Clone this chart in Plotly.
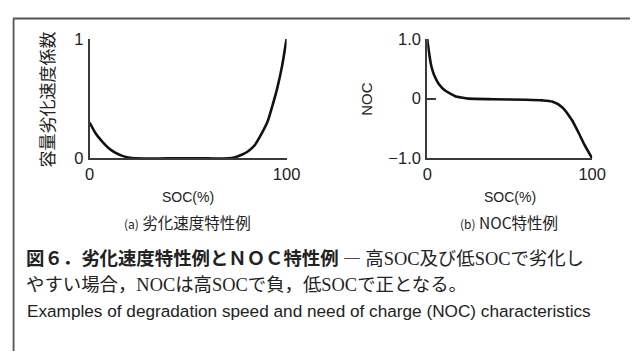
import plotly.graph_objects as go

# ---- data ----
soc_a = [0, 3, 6.4, 9.7, 13, 16.3, 19.6, 23, 40, 60, 70.6, 73.5, 77.2, 80.5, 83.8, 87.1, 90.4, 92.8, 95.3, 97.8, 100]
rate_a = [0.30, 0.21, 0.14, 0.085, 0.048, 0.023, 0.008, 0.0, 0.0, 0.0, 0.0, 0.008, 0.03, 0.06, 0.11, 0.20, 0.31, 0.44, 0.59, 0.78, 1.0]

soc_b = [0, 1.2, 2.2, 3.1, 4.1, 7, 11, 12.9, 16.9, 20.8, 25, 40, 60, 70, 75.7, 81.6, 87.5, 91.4, 95.3, 100]
noc_b = [1.0, 0.75, 0.58, 0.48, 0.40, 0.245, 0.13, 0.10, 0.04, 0.017, 0.0, -0.01, -0.02, -0.03, -0.05, -0.14, -0.35, -0.55, -0.77, -1.0]

xticks = [0, 100]
xticklabels = ["0", "100"]
yticks_a = [0, 1]
yticklabels_a = ["0", "1"]
yticks_b = [-1, 0, 1]
yticklabels_b = ["−1.0", "0", "1.0"]

# The page body keeps its default 8px margin, so the figure is sized to fit
# the 644x360 window and positions below are given in window pixels.
OFF = 8
W, H = 644 - OFF, 360 - OFF
def px(x):
    return (x - OFF) / W
def py(y):
    return 1 - (y - OFF) / H

AX = "#3a3a3a"
TXT = "#222222"
SANS = "Liberation Sans, Arial, sans-serif"
CJK = "Noto Sans CJK JP, sans-serif"

fig = go.Figure()
fig.add_trace(go.Scatter(x=soc_a, y=rate_a, mode="lines", xaxis="x", yaxis="y",
                         line=dict(color="#111111", width=2.6, shape="spline", smoothing=0.6),
                         cliponaxis=False, showlegend=False, hoverinfo="skip"))
fig.add_trace(go.Scatter(x=soc_b, y=noc_b, mode="lines", xaxis="x2", yaxis="y2",
                         line=dict(color="#111111", width=2.6, shape="spline", smoothing=0.6),
                         cliponaxis=False, showlegend=False, hoverinfo="skip"))

common_x = dict(range=[0, 100], showline=True, linecolor=AX, linewidth=2,
                ticks="inside", ticklen=9, tickwidth=1.5, tickcolor=AX,
                tickvals=xticks, ticktext=xticklabels, showgrid=False, zeroline=False,
                tickfont=dict(family=SANS, size=16.5, color=TXT), ticklabelstandoff=0,
                fixedrange=True)
common_y = dict(showline=True, linecolor=AX, linewidth=2,
                ticks="inside", ticklen=9, tickwidth=1.5, tickcolor=AX,
                showgrid=False, zeroline=False,
                tickfont=dict(family=SANS, size=16.5, color=TXT), ticklabelstandoff=1,
                fixedrange=True)

TOP, BOT = 31, 157
fig.update_layout(
    width=W, height=H,
    margin=dict(l=0, r=0, t=0, b=0),
    paper_bgcolor="white", plot_bgcolor="white",
    xaxis=dict(domain=[px(87), px(290)], anchor="y", **common_x),
    yaxis=dict(domain=[py(BOT), py(TOP)], anchor="x", range=[0, 1],
               tickvals=yticks_a, ticktext=yticklabels_a, **common_y),
    xaxis2=dict(domain=[px(435), px(605)], anchor="y2", **common_x),
    yaxis2=dict(domain=[py(BOT), py(TOP)], anchor="x2", range=[-1, 1],
                tickvals=yticks_b, ticktext=yticklabels_b, **common_y),
)

# frame (top rule and left rule)
fig.add_shape(type="line", xref="paper", yref="paper", x0=0, x1=1, y0=py(9.5), y1=py(9.5),
              line=dict(color="#555555", width=2))
fig.add_shape(type="line", xref="paper", yref="paper", x0=px(8.6), x1=px(8.6), y0=py(9.5), y1=0,
              line=dict(color="#555555", width=1.8))

def ann(text, x, y, size, family=SANS, xanchor="center", angle=0, color=TXT, align="center"):
    fig.add_annotation(text=text, x=px(x), y=py(y), xref="paper", yref="paper",
                       xanchor=xanchor, yanchor="middle", showarrow=False, textangle=angle,
                       align=align, font=dict(family=family, size=size, color=color))

# axis titles
ann("SOC(%)", 188, 198, 14)
ann("SOC(%)", 520, 198, 14)
ann("容量劣化速度係数", 43, 95, 17, family=CJK, angle=-90)
ann("NOC", 372, 94, 15, angle=-90)
# panel subtitles
ann("<span style='font-size:12px'>(a)</span> 劣化速度特性例", 188, 224, 15.5, family=CJK)
ann("<span style='font-size:12px'>(b)</span> NOC特性例", 519, 224, 15.5, family=CJK)

# caption
SERIF = "font-family:Liberation Serif"
line1 = ("<b>図６．劣化速度特性例とＮＯＣ特性例</b> ― 高<span style='" + SERIF + "'>SOC</span>及び低"
         "<span style='" + SERIF + "'>SOC</span>で劣化し")
line2 = ("やすい場合，<span style='" + SERIF + "'>NOC</span>は高<span style='" + SERIF + "'>SOC</span>で負，低"
         "<span style='" + SERIF + "'>SOC</span>で正となる。")
line3 = "Examples of degradation speed and need of charge (NOC) characteristics"
ann(line1, 19, 261, 18.4, family=CJK, xanchor="left", align="left")
ann(line2, 19, 288.5, 18.4, family=CJK, xanchor="left", align="left")
ann(line3, 20, 317.5, 17.2, family=SANS, xanchor="left")

fig.write_html("out.html", config={"displayModeBar": False})
